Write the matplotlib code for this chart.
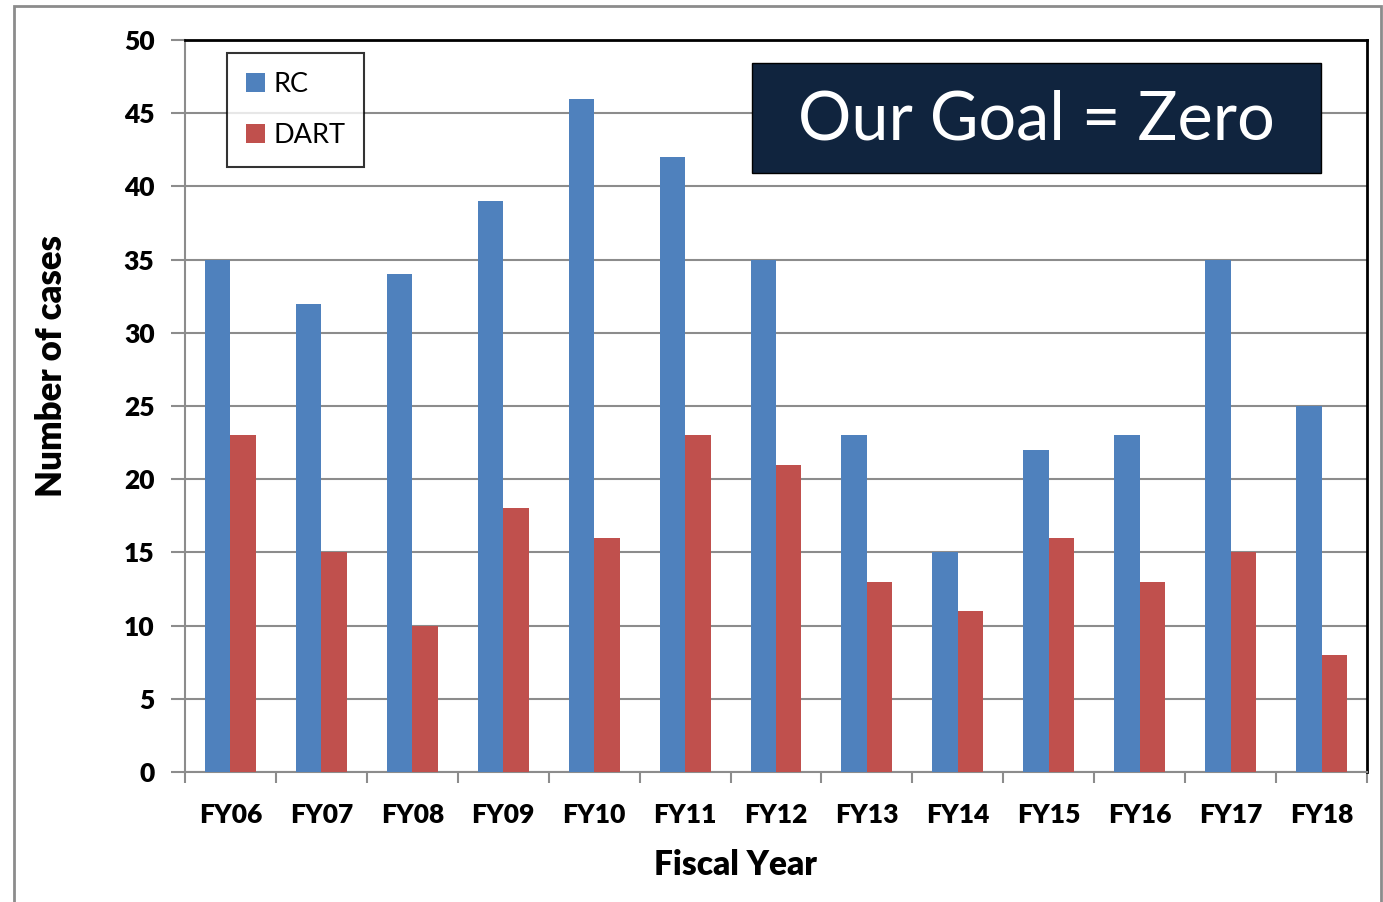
import matplotlib.pyplot as plt
import numpy as np
from matplotlib.patches import Rectangle

years = ['FY06', 'FY07', 'FY08', 'FY09', 'FY10', 'FY11', 'FY12',
         'FY13', 'FY14', 'FY15', 'FY16', 'FY17', 'FY18']
rc = [35, 32, 34, 39, 46, 42, 35, 23, 15, 22, 23, 35, 25]
dart = [23, 15, 10, 18, 16, 23, 21, 13, 11, 16, 13, 15, 8]

plt.rcParams['font.family'] = ['Lato', 'DejaVu Sans']

fig = plt.figure(figsize=(13.83, 9.02), dpi=100)
W, H = 1383, 902
# axes in pixel coords: left 185, right 1367, top 40, bottom 772
ax = fig.add_axes([185 / W, 1 - 772 / H, (1367 - 185) / W, (772 - 40) / H])

x = np.arange(len(years))
w = 0.28
ax.bar(x - w / 2, rc, w, color='#4F81BD', label='RC', zorder=3)
ax.bar(x + w / 2, dart, w, color='#C0504D', label='DART', zorder=3)

ax.set_xlim(-0.5, len(years) - 0.5)
ax.set_ylim(0, 50)
ax.set_yticks(range(0, 51, 5))
ax.grid(axis='y', color='#8C8C8C', linewidth=1.5, zorder=0)

ax.set_xticks(x)
ax.set_xticklabels(years, fontsize=19, fontweight='heavy')
ax.set_xticks(np.arange(-0.5, len(years), 1), minor=True)
ax.tick_params(axis='x', which='major', length=0, pad=22)
ax.tick_params(axis='x', which='minor', length=8, width=1.5, color='#8C8C8C')
ax.tick_params(axis='y', length=10, width=1.5, color='#8C8C8C', labelsize=19, pad=12)
for lab in ax.get_yticklabels():
    lab.set_fontweight('heavy')

ax.spines['left'].set_color('#8C8C8C')
ax.spines['bottom'].set_color('#8C8C8C')
for s in ('left', 'bottom'):
    ax.spines[s].set_linewidth(1.5)
for s in ('top', 'right'):
    ax.spines[s].set_color('black')
    ax.spines[s].set_linewidth(2)

# axis titles placed where they sit in the original
fig.text(735 / W, 1 - 865 / H, 'Fiscal Year', fontsize=24, fontweight='heavy',
         ha='center', va='center')
fig.text(52 / W, 1 - 366 / H, 'Number of cases', fontsize=25, fontweight='heavy',
         ha='center', va='center', rotation=90)

leg = ax.legend(loc='upper left', bbox_to_anchor=((227 - 185) / 1182, 1 - (53 - 40) / 732),
                fontsize=19.5, frameon=True, fancybox=False, edgecolor='black',
                handlelength=0.7, handleheight=0.7, handletextpad=0.3,
                labelspacing=0.95, borderpad=0.7, borderaxespad=0)
leg.get_frame().set_linewidth(1.5)
leg.set_zorder(5)

# goal box
fig.patches.append(Rectangle((752 / W, 1 - 173 / H), (1321 - 752) / W, (173 - 63) / H,
                             transform=fig.transFigure, facecolor='#10243E',
                             edgecolor='black', linewidth=1, zorder=6))
fig.text((752 + 1321) / 2 / W, 1 - 121 / H, 'Our Goal = Zero', color='white',
         fontsize=48, ha='center', va='center', zorder=7)

# outer border
fig.patches.append(Rectangle((14 / W, -0.01), (1381 - 14) / W, 1 - 6 / H + 0.01,
                             transform=fig.transFigure, facecolor='none',
                             edgecolor='#8C8C8C', linewidth=2))

fig.savefig('out.png', dpi=100)
